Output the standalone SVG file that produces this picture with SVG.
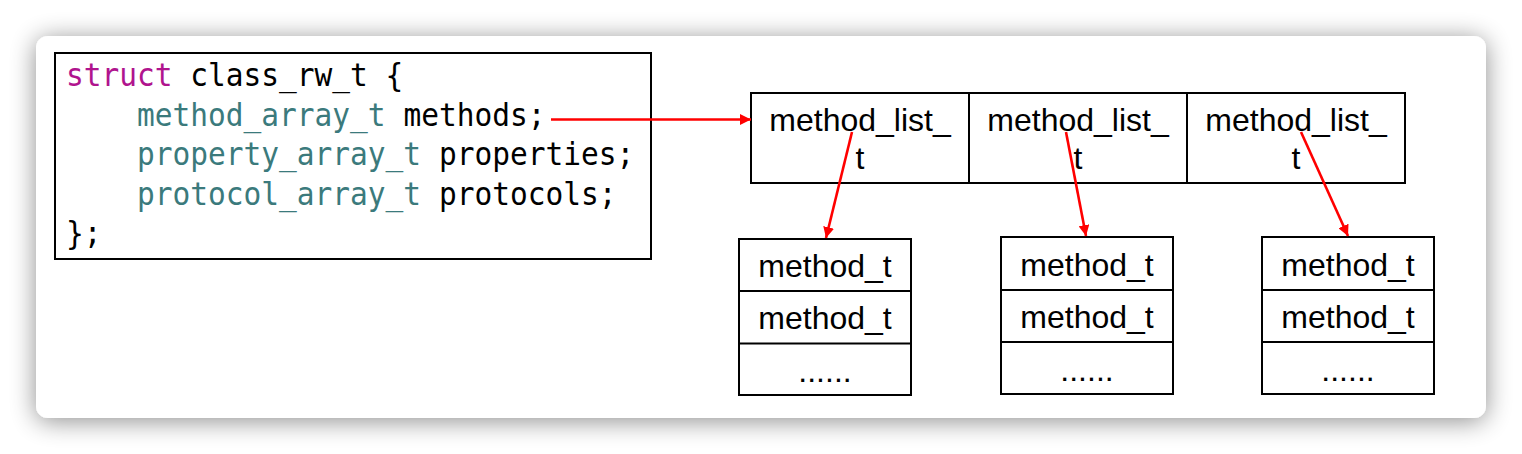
<svg xmlns="http://www.w3.org/2000/svg" width="1522" height="454" viewBox="0 0 1522 454">
  <defs>
    <filter id="shadow" x="-10%" y="-20%" width="120%" height="140%">
      <feGaussianBlur in="SourceAlpha" stdDeviation="13"/>
      <feOffset dx="0" dy="3" result="b"/>
      <feComponentTransfer><feFuncA type="linear" slope="0.45"/></feComponentTransfer>
      <feMerge><feMergeNode/><feMergeNode in="SourceGraphic"/></feMerge>
    </filter>
    <marker id="arrow" viewBox="0 0 10 10" refX="10" refY="5" markerUnits="userSpaceOnUse" markerWidth="11" markerHeight="11" orient="auto">
      <path d="M0,0 L10,5 L0,10 z" fill="#ff0000"/>
    </marker>
    <style>
      .box { fill: #ffffff; stroke: #000000; stroke-width: 2; }
      .line { stroke: #000000; stroke-width: 2; fill: none; }
      .code { font-family: "DejaVu Sans Mono", monospace; font-size: 32px; fill: #000000; }
      .kw { fill: #B0148E; }
      .ty { fill: #3B7A7C; }
      .lbl { font-family: "Liberation Sans", Arial, sans-serif; font-size: 32px; fill: #000000; text-anchor: middle; }
      .conn { stroke: #ff0000; stroke-width: 2.6; fill: none; marker-end: url(#arrow); }
    </style>
  </defs>
  <rect x="0" y="0" width="1522" height="454" fill="#ffffff"/>
  <rect x="36" y="36" width="1450" height="382" rx="12" ry="12" fill="#ffffff" filter="url(#shadow)"/>

  <g id="class_rw_t">
    <rect class="box" x="55" y="53" width="596" height="206"/>
    <g transform="translate(66,0) scale(0.922,1)">
      <text class="code" x="0" y="86"><tspan class="kw">struct</tspan> class_rw_t {</text>
      <text class="code" x="0" y="126" xml:space="preserve">    <tspan class="ty">method_array_t</tspan> methods;</text>
      <text class="code" x="0" y="165.5" xml:space="preserve">    <tspan class="ty">property_array_t</tspan> properties;</text>
      <text class="code" x="0" y="205" xml:space="preserve">    <tspan class="ty">protocol_array_t</tspan> protocols;</text>
      <text class="code" x="0" y="244.5">};</text>
    </g>
  </g>

  <g id="method_array">
    <rect class="box" x="751" y="93" width="654" height="90"/>
    <line class="line" x1="969" y1="93" x2="969" y2="183"/>
    <line class="line" x1="1187" y1="93" x2="1187" y2="183"/>
    <text class="lbl" x="860" y="131">method_list_</text>
    <text class="lbl" x="860" y="169">t</text>
    <text class="lbl" x="1078" y="131">method_list_</text>
    <text class="lbl" x="1078" y="169">t</text>
    <text class="lbl" x="1296" y="131">method_list_</text>
    <text class="lbl" x="1296" y="169">t</text>
  </g>

  <g id="method_list_1">
    <rect class="box" x="739" y="239" width="172" height="156"/>
    <line class="line" x1="739" y1="291" x2="911" y2="291"/>
    <line class="line" x1="739" y1="343.5" x2="911" y2="343.5"/>
    <text class="lbl" x="825" y="277">method_t</text>
    <text class="lbl" x="825" y="329">method_t</text>
    <text class="lbl" x="825" y="382">......</text>
  </g>

  <g id="method_list_2">
    <rect class="box" x="1001" y="237" width="172" height="157"/>
    <line class="line" x1="1001" y1="290" x2="1173" y2="290"/>
    <line class="line" x1="1001" y1="342" x2="1173" y2="342"/>
    <text class="lbl" x="1087" y="276">method_t</text>
    <text class="lbl" x="1087" y="328">method_t</text>
    <text class="lbl" x="1087" y="381">......</text>
  </g>

  <g id="method_list_3">
    <rect class="box" x="1262" y="237" width="172" height="157"/>
    <line class="line" x1="1262" y1="290" x2="1434" y2="290"/>
    <line class="line" x1="1262" y1="342" x2="1434" y2="342"/>
    <text class="lbl" x="1348" y="276">method_t</text>
    <text class="lbl" x="1348" y="328">method_t</text>
    <text class="lbl" x="1348" y="381">......</text>
  </g>

  <g id="connectors">
    <line class="conn" x1="551" y1="119.5" x2="751" y2="119.5"/>
    <line class="conn" x1="852" y1="132" x2="826" y2="238"/>
    <line class="conn" x1="1066" y1="132" x2="1086" y2="236"/>
    <line class="conn" x1="1301" y1="132" x2="1348" y2="236"/>
  </g>
</svg>
